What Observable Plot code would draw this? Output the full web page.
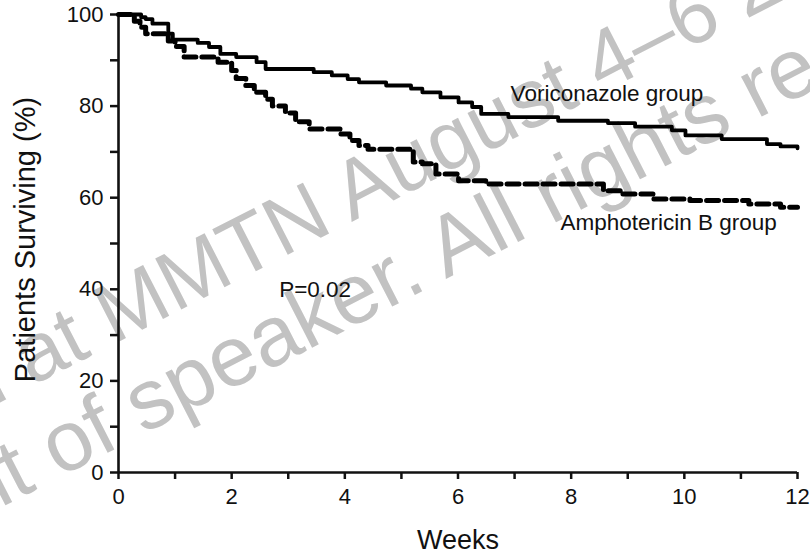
<!DOCTYPE html>
<html>
<head>
<meta charset="utf-8">
<script src="https://cdn.jsdelivr.net/npm/d3@7"></script>
<script src="https://cdn.jsdelivr.net/npm/@observablehq/plot@0.6"></script>
<style>
  html, body { margin: 0; padding: 0; background: #fff; }
  #wrap { position: relative; width: 810px; height: 554px; overflow: hidden; font-family: "Liberation Sans", Arial, sans-serif; }
  #wm { position: absolute; left: 0; top: 0; }
  #chart { position: absolute; left: 0; top: 0; }
  #chart svg { background: transparent !important; }
</style>
</head>
<body>
<div id="wrap">
  <svg id="wm" width="810" height="554"></svg>
  <div id="chart"></div>
</div>
<script>
// Voriconazole group (solid) — Kaplan–Meier steps
const weeksVori = [0, 0.40, 0.48, 0.6, 0.88, 0.96, 1.4, 1.6, 1.8, 2.08, 2.44, 2.6, 3.45, 3.77, 4.05, 4.25, 4.73, 5.17, 5.37, 5.69, 6.01, 6.25, 6.41, 6.89, 7.77, 8.65, 9.13, 9.78, 10.02, 10.66, 11.46, 11.7, 12];
const survVori  = [100, 99.4, 99, 98, 95.8, 94.5, 93.8, 92.9, 91.4, 90.7, 89.6, 88.1, 87.4, 86.7, 85.9, 85.2, 84.5, 83.8, 83.0, 81.9, 80.8, 79.8, 78.3, 77.6, 76.8, 76.3, 75.5, 74.7, 73.6, 72.8, 71.7, 71.2, 70.8];

// Amphotericin B group (dashed)
const weeksAmph = [0, 0.28, 0.38, 0.48, 0.88, 1.0, 1.16, 1.76, 2.0, 2.08, 2.25, 2.4, 2.6, 2.72, 2.95, 3.13, 3.37, 3.93, 4.09, 4.25, 4.41, 5.21, 5.37, 5.61, 6.01, 6.49, 8.57, 8.89, 9.46, 10.1, 11.14, 11.7, 12];
const survAmph  = [100, 98.5, 97.2, 95.8, 94.2, 93, 90.7, 89.6, 87.8, 86, 84.5, 83, 81.5, 80, 78.5, 76.6, 75, 73.9, 72.5, 71.4, 70.6, 67.8, 67.4, 65.2, 63.7, 63, 61.5, 60.8, 59.7, 59.4, 58.6, 57.9, 57.9];

// Axes
const xTicks = [0,1,2,3,4,5,6,7,8,9,10,11,12];
const xTickLabels = [0,2,4,6,8,10,12];
const yTicks = [0,10,20,30,40,50,60,70,80,90,100];
const yTickLabels = [0,20,40,60,80,100];
const xTitle = "Weeks";
const yTitle = "Patients Surviving (%)";

// Annotations
const annoText = ["Voriconazole group", "Amphotericin B group", "P=0.02"];
const annoX = [6.93, 7.81, 2.84];
const annoY = [82.7, 54.5, 40.0];

// Watermark lines
const watermark = ["d at MMTN August 4–6 2", "nt of speaker. All rights re"];

const vori = weeksVori.map((w, i) => ({week: w, surv: survVori[i]}));
const amph = weeksAmph.map((w, i) => ({week: w, surv: survAmph[i]}));
const annos = annoText.map((t, i) => ({text: t, x: annoX[i], y: annoY[i]}));

const FONT = '"Liberation Sans", Arial, sans-serif';

const chart = Plot.plot({
  width: 810,
  height: 554,
  marginLeft: 118,
  marginRight: 13,
  marginTop: 14,
  marginBottom: 82,
  style: {fontFamily: FONT, background: "transparent", color: "#111"},
  x: {domain: [0, 12]},
  y: {domain: [0, 100]},
  marks: [
    Plot.axisY({ticks: yTicks, tickFormat: d => yTickLabels.includes(d) ? String(d) : "", tickSize: 8, tickPadding: 7, fontSize: 22, strokeWidth: 2.5, label: null, stroke: "#111", fill: "#111"}),
    Plot.axisX({ticks: xTicks, tickFormat: d => xTickLabels.includes(d) ? String(d) : "", tickSize: 7, tickPadding: 9, fontSize: 22, strokeWidth: 2.5, label: null, stroke: "#111", fill: "#111"}),
    Plot.ruleX([0], {y1: 0, y2: 100, stroke: "#111", strokeWidth: 2.6}),
    Plot.ruleY([0], {x1: 0, x2: 12, stroke: "#111", strokeWidth: 2.6}),
    Plot.line(vori, {x: "week", y: "surv", curve: "step-after", stroke: "#000", strokeWidth: 3.8}),
    Plot.line(amph, {x: "week", y: "surv", curve: "step-after", stroke: "#000", strokeWidth: 5, strokeDasharray: "12,6"}),
    Plot.text(annos, {x: "x", y: "y", text: "text", textAnchor: "start", lineAnchor: "middle", fontSize: 22.5, fill: "#111"}),
    Plot.text([yTitle], {frameAnchor: "left", dx: -93, dy: -4, rotate: -90, textAnchor: "middle", lineAnchor: "middle", fontSize: 29, fill: "#111"}),
    Plot.text([xTitle], {frameAnchor: "bottom", dy: 68, textAnchor: "middle", lineAnchor: "middle", fontSize: 27, fill: "#111"})
  ]
});
document.getElementById("chart").appendChild(chart);

// watermark (drawn beneath the chart)
const wm = d3.select("#wm");
const wmPos = [[-30, 418], [-25, 521]];
const wmSize = [83, 85];
wm.selectAll("text").data(watermark).join("text")
  .attr("transform", (d, i) => `translate(${wmPos[i][0]},${wmPos[i][1]}) rotate(-27.2)`)
  .attr("font-family", FONT)
  .attr("font-size", (d, i) => wmSize[i])
  .attr("fill", "#c2c2c2")
  .text(d => d);
</script>
</body>
</html>
